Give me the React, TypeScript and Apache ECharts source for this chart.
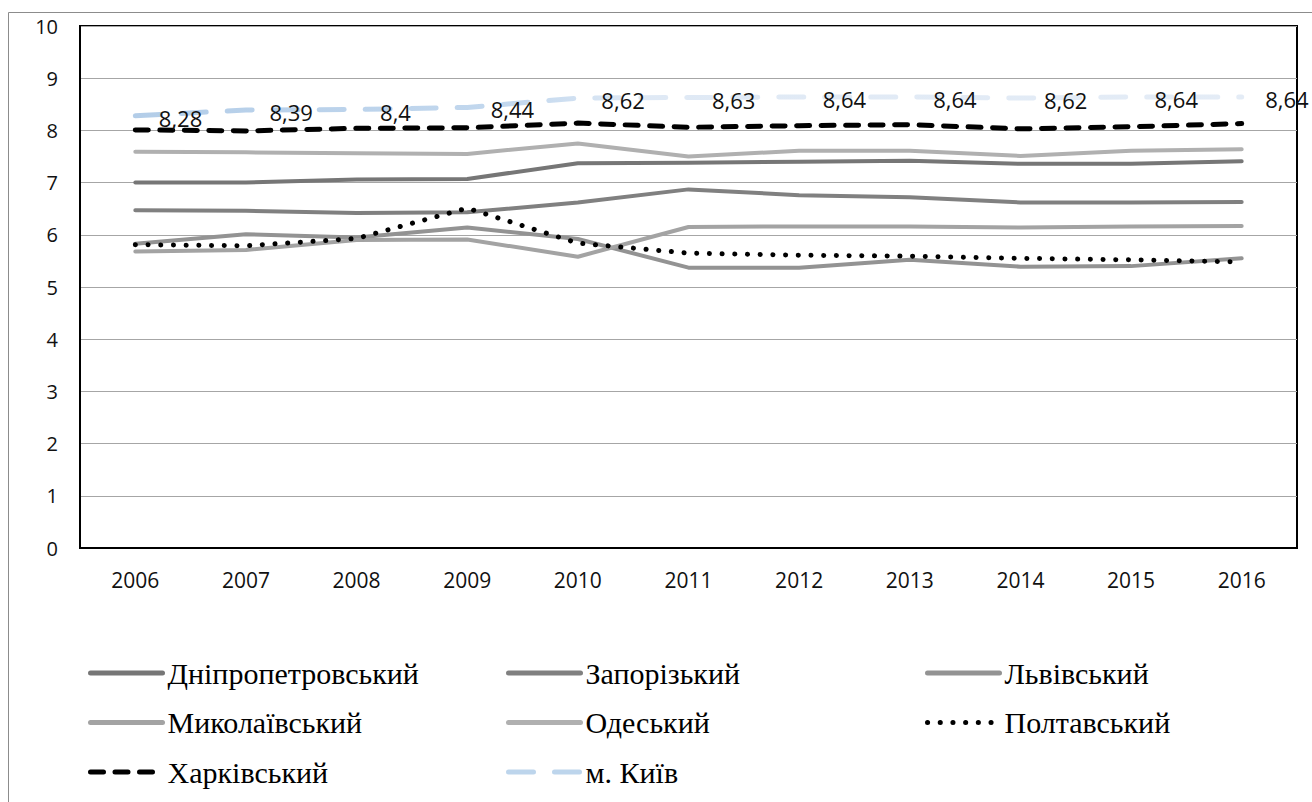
import React, { useEffect, useRef } from "react";
import * as echarts from "echarts";

// Years on the category axis
const years = ["2006", "2007", "2008", "2009", "2010", "2011", "2012", "2013", "2014", "2015", "2016"];

// Regional values
const dnipro = [7.0, 7.0, 7.06, 7.07, 7.37, 7.38, 7.4, 7.42, 7.36, 7.36, 7.41];
const zaporizhzhia = [6.47, 6.46, 6.42, 6.43, 6.62, 6.87, 6.76, 6.72, 6.62, 6.62, 6.63];
const lviv = [5.83, 6.01, 5.95, 6.14, 5.92, 5.37, 5.37, 5.52, 5.39, 5.4, 5.55];
const mykolaiv = [5.68, 5.71, 5.9, 5.91, 5.58, 6.15, 6.16, 6.16, 6.14, 6.16, 6.17];
const odesa = [7.59, 7.58, 7.56, 7.55, 7.75, 7.5, 7.61, 7.61, 7.51, 7.61, 7.64];
const poltava = [5.81, 5.79, 5.93, 6.51, 5.84, 5.65, 5.61, 5.59, 5.55, 5.52, 5.48];
const kharkiv = [8.01, 7.99, 8.04, 8.05, 8.14, 8.06, 8.09, 8.11, 8.03, 8.07, 8.13];
const kyiv = [8.28, 8.39, 8.4, 8.44, 8.62, 8.63, 8.64, 8.64, 8.62, 8.64, 8.64];

const names = {
  dnipro: "Дніпропетровський",
  zaporizhzhia: "Запорізький",
  lviv: "Львівський",
  mykolaiv: "Миколаївський",
  odesa: "Одеський",
  poltava: "Полтавський",
  kharkiv: "Харківський",
  kyiv: "м. Київ",
};

const colors = {
  dnipro: "#767676",
  zaporizhzhia: "#808080",
  lviv: "#939393",
  mykolaiv: "#a3a3a3",
  odesa: "#b0b0b0",
  kyiv: "#bdd5ec",
};

const sans = "'Open Sans', 'Noto Sans', sans-serif";
const serif = "'Liberation Serif', 'DejaVu Serif', serif";

const dotted = [0.1, 12.6];
const dashed = [13, 11.5];
const longDash = [25, 21];

function solid(name: string, data: number[], color: string) {
  return {
    name,
    type: "line",
    data,
    symbol: "none",
    lineStyle: { color, width: 4, cap: "round", join: "round" },
    itemStyle: { color },
  };
}

function legendItem(name: string, color: string, type: any = "solid", width = 5) {
  return {
    name,
    itemStyle: { opacity: 0 },
    lineStyle: { color, width, type, cap: "round", opacity: 1 },
  };
}

export default function App() {
  const ref = useRef<HTMLDivElement>(null);

  useEffect(() => {
    if (!ref.current) return;
    const chart = echarts.init(ref.current, null, { renderer: "svg" });

    const kyivGradient = new echarts.graphic.LinearGradient(0, 0, 1, 0, [
      { offset: 0, color: "#b3cde8" },
      { offset: 0.35, color: "#c3d8ee" },
      { offset: 0.45, color: "#dfe9f5" },
      { offset: 1, color: "#e4ecf6" },
    ]);

    const legendText = { fontFamily: serif, fontSize: 30, color: "#000", lineHeight: 30 };
    const legendBase = {
      orient: "vertical",
      top: 658,
      padding: 0,
      itemWidth: 72,
      itemHeight: 14,
      itemGap: 19.5,
      textStyle: legendText,
      itemStyle: { opacity: 0 },
    };

    chart.setOption({
      animation: false,
      backgroundColor: "#fff",
      graphic: [
        {
          type: "rect",
          shape: { x: 8.5, y: 12.5, width: 1400, height: 900 },
          style: { fill: "none", stroke: "#8c8c8c", lineWidth: 1 },
          silent: true,
        },
      ],
      grid: {
        left: 80,
        right: 15,
        top: 26,
        bottom: 254,
        show: true,
        borderColor: "#000",
        borderWidth: 2,
        containLabel: false,
      },
      legend: [
        {
          ...legendBase,
          left: 88,
          data: [
            legendItem(names.dnipro, colors.dnipro),
            legendItem(names.mykolaiv, colors.mykolaiv),
            legendItem(names.kharkiv, "#000", dashed),
          ],
        },
        {
          ...legendBase,
          left: 506,
          data: [
            legendItem(names.zaporizhzhia, colors.zaporizhzhia),
            legendItem(names.odesa, colors.odesa),
            legendItem(names.kyiv, colors.kyiv, longDash),
          ],
        },
        {
          ...legendBase,
          left: 925,
          data: [legendItem(names.lviv, colors.lviv), legendItem(names.poltava, "#000", dotted)],
        },
      ],
      xAxis: {
        type: "category",
        data: years,
        boundaryGap: true,
        axisLine: { lineStyle: { color: "#000", width: 2 } },
        axisTick: { show: false },
        axisLabel: { fontFamily: sans, fontSize: 21, color: "#111", margin: 21 },
      },
      yAxis: {
        type: "value",
        min: 0,
        max: 10,
        interval: 1,
        axisLine: { show: true, lineStyle: { color: "#000", width: 2 } },
        axisTick: { show: false },
        axisLabel: { fontFamily: sans, fontSize: 20, color: "#111", margin: 22 },
        splitLine: { lineStyle: { color: "#a6a6a6", width: 1 } },
      },
      series: [
        solid(names.dnipro, dnipro, colors.dnipro),
        solid(names.zaporizhzhia, zaporizhzhia, colors.zaporizhzhia),
        solid(names.lviv, lviv, colors.lviv),
        solid(names.mykolaiv, mykolaiv, colors.mykolaiv),
        solid(names.odesa, odesa, colors.odesa),
        {
          name: names.poltava,
          type: "line",
          data: poltava,
          symbol: "none",
          lineStyle: { color: "#000", width: 5, type: dotted, cap: "round", join: "round" },
          itemStyle: { color: "#000" },
        },
        {
          name: names.kharkiv,
          type: "line",
          data: kharkiv,
          symbol: "none",
          lineStyle: { color: "#000", width: 5, type: dashed, cap: "round", join: "round" },
          itemStyle: { color: "#000" },
        },
        {
          name: names.kyiv,
          type: "line",
          data: kyiv,
          symbol: "circle",
          symbolSize: 1,
          showSymbol: true,
          lineStyle: { color: kyivGradient, width: 5, type: longDash, cap: "round", join: "round" },
          itemStyle: { color: "rgba(0,0,0,0)", borderWidth: 0 },
          label: {
            show: true,
            position: "right",
            distance: 23,
            offset: [0, 2],
            fontFamily: sans,
            fontSize: 22,
            color: "#111",
            formatter: (p: any) => String(p.value).replace(".", ","),
          },
          z: 5,
        },
      ],
    });

    return () => chart.dispose();
  }, []);

  return (
    <div
      ref={ref}
      style={{ position: "absolute", left: 0, top: 0, width: 1312, height: 802, background: "#fff" }}
    />
  );
}
